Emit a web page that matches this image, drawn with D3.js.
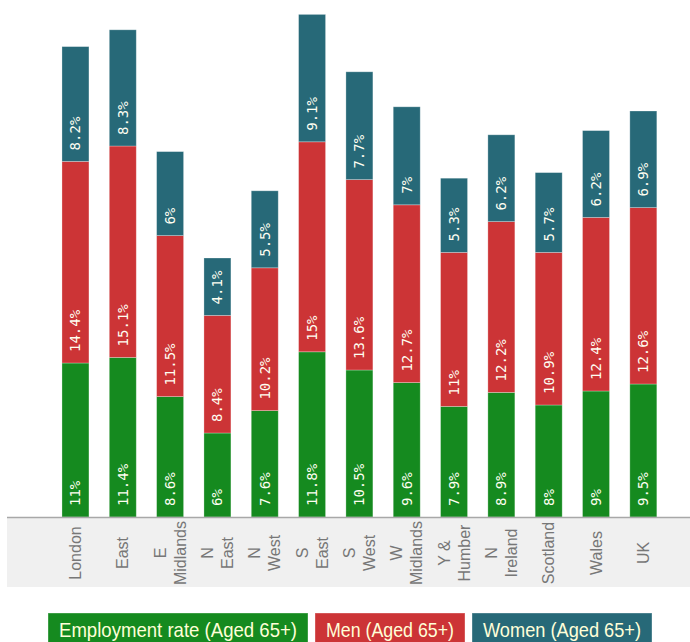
<!DOCTYPE html>
<html>
<head>
<meta charset="utf-8">
<script src="https://cdn.jsdelivr.net/npm/d3@7/dist/d3.min.js"></script>
<style>
  html, body { margin: 0; padding: 0; background: #fff; }
  svg { display: block; }
</style>
</head>
<body>
<svg id="chart" width="690" height="642"></svg>
<script>
const categories = ["London", "East", "E Midlands", "N East", "N West", "S East", "S West", "W Midlands", "Y & Humber", "N Ireland", "Scotland", "Wales", "UK"];
const categoryLines = [["London"], ["East"], ["E", "Midlands"], ["N", "East"], ["N", "West"], ["S", "East"], ["S", "West"], ["W", "Midlands"], ["Y &", "Humber"], ["N", "Ireland"], ["Scotland"], ["Wales"], ["UK"]];
const employment = [11, 11.4, 8.6, 6, 7.6, 11.8, 10.5, 9.6, 7.9, 8.9, 8, 9, 9.5];
const men = [14.4, 15.1, 11.5, 8.4, 10.2, 15, 13.6, 12.7, 11, 12.2, 10.9, 12.4, 12.6];
const women = [8.2, 8.3, 6, 4.1, 5.5, 9.1, 7.7, 7, 5.3, 6.2, 5.7, 6.2, 6.9];
const seriesNames = ["Employment rate (Aged 65+)", "Men (Aged 65+)", "Women (Aged 65+)"];
const seriesColors = ["#158a1f", "#cc3436", "#276978"];
const seriesValues = [employment, men, women];

const svg = d3.select("#chart");
const baseY = 517;

const rows = categories.map((c, i) => ({ cat: c, s0: employment[i], s1: men[i], s2: women[i] }));
const keys = ["s0", "s1", "s2"];
const layers = d3.stack().keys(keys)(rows);

const x = d3.scaleBand().domain(categories).range([51.8, 667]).paddingInner(0.43).paddingOuter(0.215);
const y = d3.scaleLinear().domain([0, 36]).range([baseY, 13]);

// axis background
svg.append("rect").attr("x", 7).attr("y", baseY + 1).attr("width", 683).attr("height", 69).attr("fill", "#f0f0f0");

// bars
const g = svg.append("g");
layers.forEach((layer, li) => {
  g.selectAll(null).data(layer).enter().append("rect")
    .attr("x", d => x(d.data.cat))
    .attr("y", d => y(d[1]))
    .attr("width", x.bandwidth())
    .attr("height", d => y(d[0]) - y(d[1]))
    .attr("fill", seriesColors[li])
    .attr("stroke", "rgba(255,255,255,0.35)")
    .attr("stroke-width", 0.8);
  g.selectAll(null).data(layer).enter().append("text")
    .attr("transform", d => `translate(${x(d.data.cat) + x.bandwidth() / 2 + 5},${y(d[0]) - 11}) rotate(-90)`)
    .attr("text-anchor", "start")
    .attr("font-family", "DejaVu Sans Mono, monospace")
    .attr("font-size", 14)
    .attr("fill", "#fffff2")
    .text(d => d.data[keys[li]] + "%");
});

// axis line
svg.append("line").attr("x1", 7).attr("x2", 690).attr("y1", baseY + 0.5).attr("y2", baseY + 0.5)
  .attr("stroke", "#a8a8a8").attr("stroke-width", 1.5);

// axis labels
const axisG = svg.append("g").attr("transform", `translate(0,${baseY})`);
axisG.call(d3.axisBottom(x).tickSize(0).tickFormat(""));
axisG.select(".domain").remove();
const lineH = 20;
categories.forEach((c, i) => {
  const lines = categoryLines[i];
  const cx = x(c) + x.bandwidth() / 2;
  const t = svg.append("text")
    .attr("transform", `translate(${cx},553) rotate(-90)`)
    .attr("text-anchor", "middle")
    .attr("font-family", "Liberation Sans, Arial, sans-serif")
    .attr("font-size", 16)
    .attr("fill", "#777");
  const offset = -(lines.length - 1) * lineH / 2 + 5.5;
  lines.forEach((l, j) => {
    t.append("tspan").attr("x", 0).attr("y", offset + j * lineH).text(l);
  });
});

// legend
const legendBoxes = [[48, 308], [315, 465], [472, 652]];
const lg = svg.append("g");
seriesNames.forEach((n, i) => {
  const [x0, x1] = legendBoxes[i];
  lg.append("rect").attr("x", x0).attr("y", 613).attr("width", x1 - x0).attr("height", 32)
    .attr("fill", seriesColors[i]).attr("stroke", "rgba(255,255,255,0.35)");
  lg.append("text").attr("x", x0 + 11).attr("y", 637)
    .attr("font-family", "Liberation Sans, Arial, sans-serif")
    .attr("font-size", 21)
    .attr("textLength", x1 - x0 - 22)
    .attr("lengthAdjust", "spacingAndGlyphs")
    .attr("fill", "#ffffd8")
    .text(n);
});
</script>
</body>
</html>
